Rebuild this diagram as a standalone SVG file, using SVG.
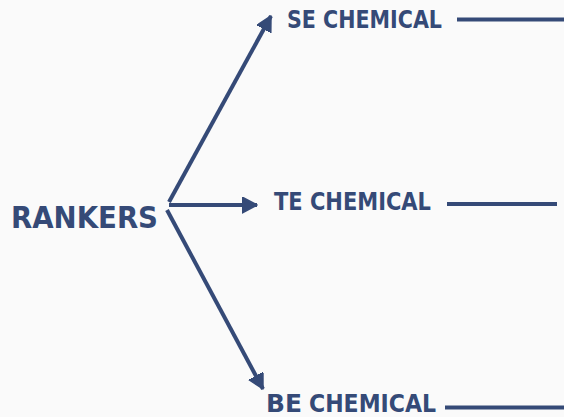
<svg xmlns="http://www.w3.org/2000/svg" width="564" height="417" viewBox="0 0 564 417">
<defs>
<style>
.t{font-family:"DejaVu Sans","Verdana",sans-serif;font-weight:bold;fill:#354a77;font-stretch:condensed}
.c{stroke:#354a77;stroke-width:4;fill:none}
.l{stroke:#354a77;stroke-width:4}
</style>
<marker id="ah" markerUnits="userSpaceOnUse" markerWidth="20" markerHeight="20" refX="15" refY="8" orient="auto">
<path d="M0,0 L15,8 L0,16 Z" fill="#354a77" stroke="#354a77" stroke-width="1.5" stroke-linejoin="round"/>
</marker>
</defs>
<rect width="564" height="417" fill="#fafafa"/>
<g id="connectors">
<line class="c" x1="169" y1="202" x2="271" y2="16" marker-end="url(#ah)"/>
<line class="c" x1="169" y1="205" x2="257" y2="205" marker-end="url(#ah)"/>
<line class="c" x1="167" y1="210" x2="263" y2="389" marker-end="url(#ah)"/>
</g>
<g id="rankers"><text class="t" x="11" y="228" font-size="31" textLength="147" lengthAdjust="spacingAndGlyphs">RANKERS</text></g>
<g id="se"><text class="t" x="287" y="28" font-size="25" textLength="155" lengthAdjust="spacingAndGlyphs">SE CHEMICAL</text>
<line class="l" x1="457" y1="19.5" x2="564" y2="19.5"/></g>
<g id="te"><text class="t" x="274" y="210" font-size="25" textLength="157" lengthAdjust="spacingAndGlyphs">TE CHEMICAL</text>
<line class="l" x1="447" y1="204" x2="557" y2="204"/></g>
<g id="be"><text class="t" x="266" y="412" font-size="24"><tspan textLength="36" lengthAdjust="spacingAndGlyphs">BE</tspan><tspan x="309" textLength="127" lengthAdjust="spacingAndGlyphs">CHEMICAL</tspan></text>
<line class="l" x1="445" y1="407.5" x2="564" y2="407.5"/></g>
</svg>
